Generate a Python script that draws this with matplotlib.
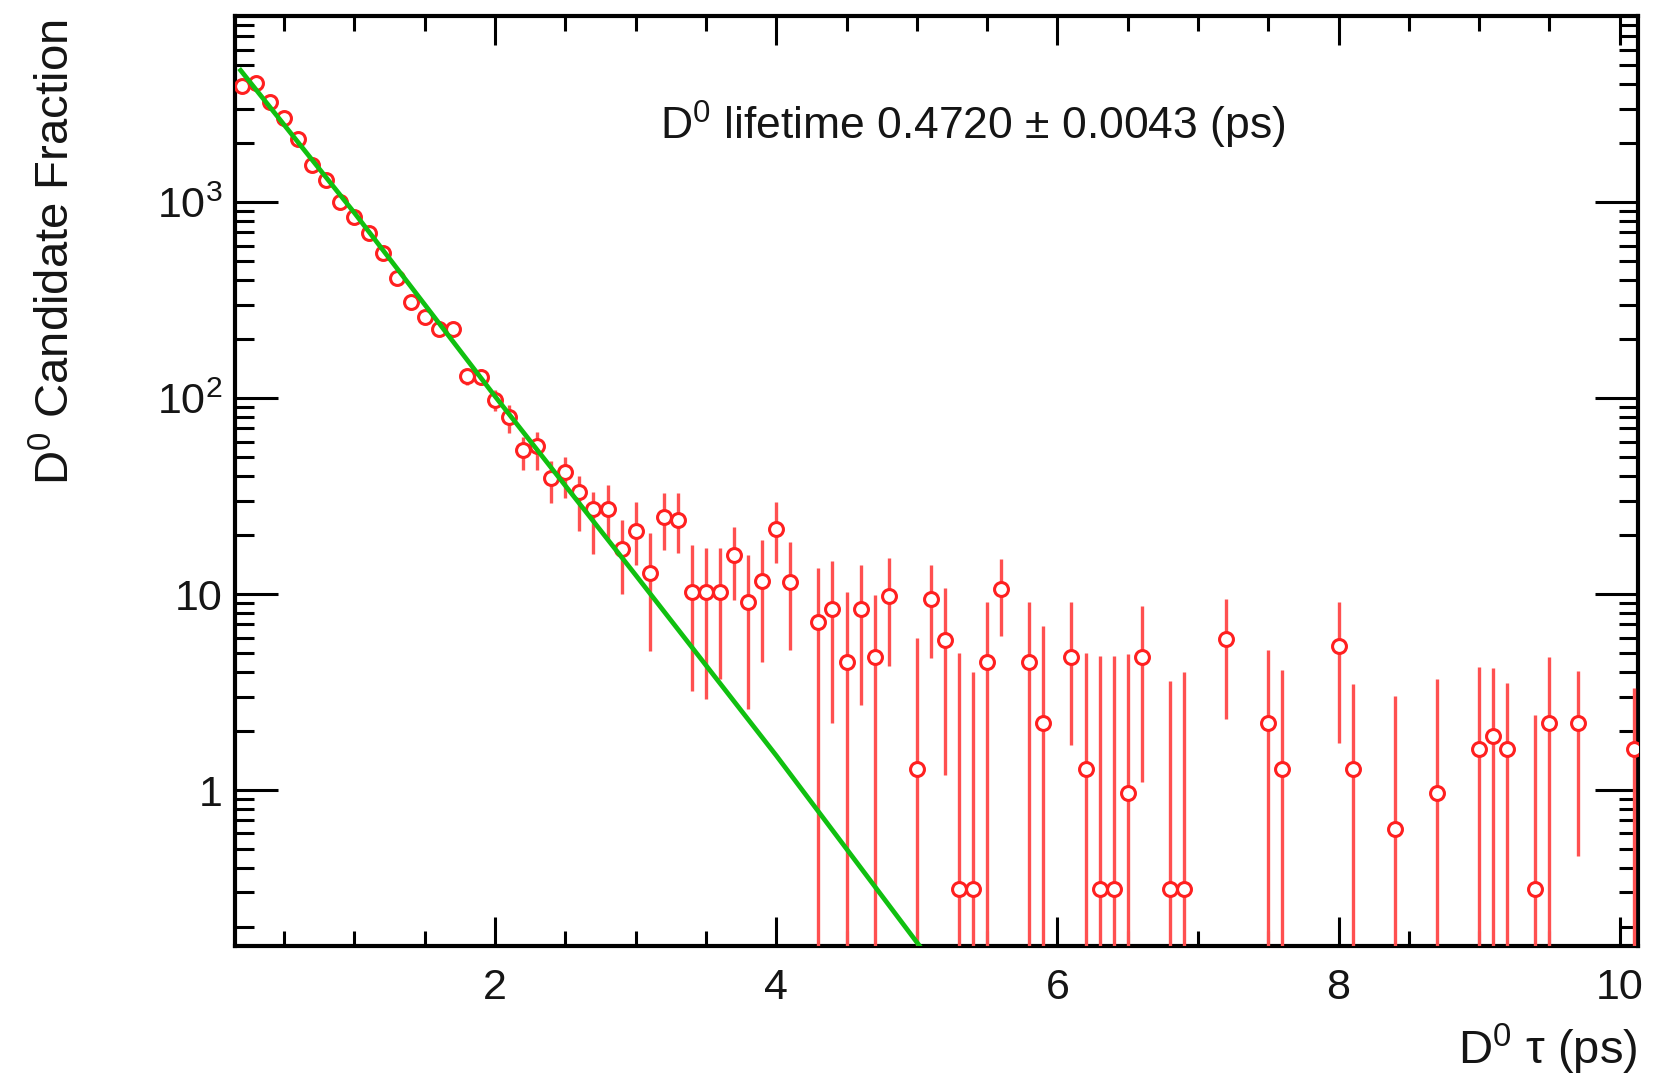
import numpy as np
import matplotlib
matplotlib.use("Agg")
import matplotlib.pyplot as plt
from matplotlib.ticker import MultipleLocator, FixedLocator, FixedFormatter, LogLocator, NullFormatter

plt.rcParams['font.family'] = ['Liberation Sans', 'DejaVu Sans']
plt.rcParams['mathtext.default'] = 'regular'

# histogram bins (tau in ps)
tau = [0.2, 0.3, 0.4, 0.5, 0.6, 0.7, 0.8, 0.9, 1.0, 1.1,
       1.2, 1.3, 1.4, 1.5, 1.6, 1.7, 1.8, 1.9, 2.0, 2.1,
       2.2, 2.3, 2.4, 2.5, 2.6, 2.7, 2.8, 2.9, 3.0, 3.1,
       3.2, 3.3, 3.4, 3.5, 3.6, 3.7, 3.8, 3.9, 4.0, 4.1,
       4.3, 4.4, 4.5, 4.6, 4.7, 4.8, 5.0, 5.1, 5.2, 5.3,
       5.4, 5.5, 5.6, 5.8, 5.9, 6.1, 6.2, 6.3, 6.4, 6.5,
       6.6, 6.8, 6.9, 7.2, 7.5, 7.6, 8.0, 8.1, 8.4, 8.7,
       9.0, 9.1, 9.2, 9.4, 9.5, 9.7, 10.1]
counts = [3910, 4030, 3240, 2670, 2110, 1545, 1295, 1000, 841, 692,
          547, 408, 310, 260, 224, 224, 129, 128, 98, 80,
          54, 57, 39, 42, 33, 27, 27, 17, 21, 12.8,
          24.8, 23.9, 10.3, 10.3, 10.3, 15.8, 9.1, 11.6, 21.4, 11.5,
          7.2, 8.4, 4.5, 8.4, 4.8, 9.8, 1.28, 9.4, 5.8, 0.313,
          0.313, 4.5, 10.6, 4.5, 2.2, 4.8, 1.28, 0.313, 0.313, 0.97,
          4.8, 0.313, 0.313, 5.9, 2.2, 1.28, 5.4, 1.28, 0.63, 0.97,
          1.62, 1.89, 1.62, 0.313, 2.2, 2.2, 1.62]
err_lo = [60, 60, 55, 50, 45, 38, 35, 30, 28, 26,
          23, 20, 17, 16, 15, 15, 12, 12, 12, 14,
          11, 14, 10, 11, 12, 11, 8, 7, 7, 7.7,
          8, 7.7, 7.1, 7.4, 6.6, 6.5, 6.5, 7.1, 7, 6.3,
          7.2, 6.2, 4.5, 5.7, 4.8, 5.5, 1.28, 4.7, 4.6, 0.313,
          0.313, 4.5, 4.5, 4.5, 2.2, 3.1, 1.28, 0.313, 0.313, 0.97,
          3.7, 0.313, 0.313, 3.6, 2.2, 1.28, 3.66, 1.28, 0.63, 0.97,
          1.62, 1.89, 1.62, 0.313, 2.2, 1.74, 1.62]
err_hi = [60, 60, 55, 50, 45, 38, 35, 30, 28, 26,
          23, 20, 17, 16, 15, 15, 12, 12, 12, 12,
          9, 10, 9, 8, 7, 6, 9, 7, 8.5, 7.6,
          8, 9, 7.5, 6.8, 6.8, 6.2, 6.7, 7.3, 8.2, 7,
          6.4, 6.3, 5.8, 5.7, 5.1, 5.4, 4.7, 4.7, 4.9, 4.7,
          3.7, 4.6, 4.5, 4.6, 4.7, 4.3, 3.7, 4.5, 4.5, 4.0,
          3.9, 3.3, 3.7, 3.5, 3.0, 2.8, 3.66, 2.2, 2.4, 2.7,
          2.6, 2.3, 1.9, 2.1, 2.6, 1.83, 1.7]

# exponential fit curve
fit_x = [0.19, 1.0, 2.0, 3.0, 4.0, 5.02]
fit_y = [4700, 880, 102, 12.5, 1.5, 0.16]

ytick_vals = [1, 10, 100, 1000]
ytick_text = ['1', '10', '$10^{2}$', '$10^{3}$']

fig = plt.figure(figsize=(16.68, 10.77), dpi=100)
ax = fig.add_axes([235/1668, 1-946/1077, (1638-235)/1668, (946-16)/1077])
ax.set_yscale('log', nonpositive='clip')
ax.set_xlim(0.15, 10.13)
ax.set_ylim(0.16, 8900)

ax.errorbar(tau, counts, yerr=[err_lo, err_hi], fmt='o', color='#ff2020',
            ecolor='#ff5050', elinewidth=2.4, capsize=0, markersize=10,
            markerfacecolor='white', markeredgecolor='#ff2020', markeredgewidth=2.2,
            zorder=3, clip_on=True)
ax.plot(fit_x, fit_y, color='#10c010', lw=3.4, zorder=4)

txt_color = '#151515'
ax.xaxis.set_major_locator(MultipleLocator(2))
ax.xaxis.set_minor_locator(MultipleLocator(0.5))
ax.yaxis.set_major_locator(FixedLocator(ytick_vals))
ax.yaxis.set_major_formatter(FixedFormatter(ytick_text))
ax.yaxis.set_minor_locator(LogLocator(base=10, subs=np.arange(2, 10), numticks=20))
ax.yaxis.set_minor_formatter(NullFormatter())

ax.tick_params(which='both', direction='in', top=True, right=True, width=2.2,
               colors='black', labelcolor=txt_color, labelsize=31)
ax.tick_params(axis='x', which='major', length=21, pad=16)
ax.tick_params(axis='x', which='minor', length=11)
ax.tick_params(axis='y', which='major', length=31, pad=9)
ax.tick_params(axis='y', which='minor', length=14)
for sp in ax.spines.values():
    sp.set_linewidth(3)

fig.text(973/1668, 1-125/1077, r'$D^{0}$ lifetime 0.4720 $\pm$ 0.0043 (ps)',
         ha='center', va='center', fontsize=32, color=txt_color)
fig.text(57/1668, 1-20/1077, r'$D^{0}$ Candidate Fraction', rotation=90,
         ha='center', va='top', fontsize=34, color=txt_color)
fig.text(1638/1668, 1-1064/1077, r'$D^{0}$ τ (ps)', ha='right', va='baseline',
         fontsize=34, color=txt_color)

fig.savefig('out.png', dpi=100)
